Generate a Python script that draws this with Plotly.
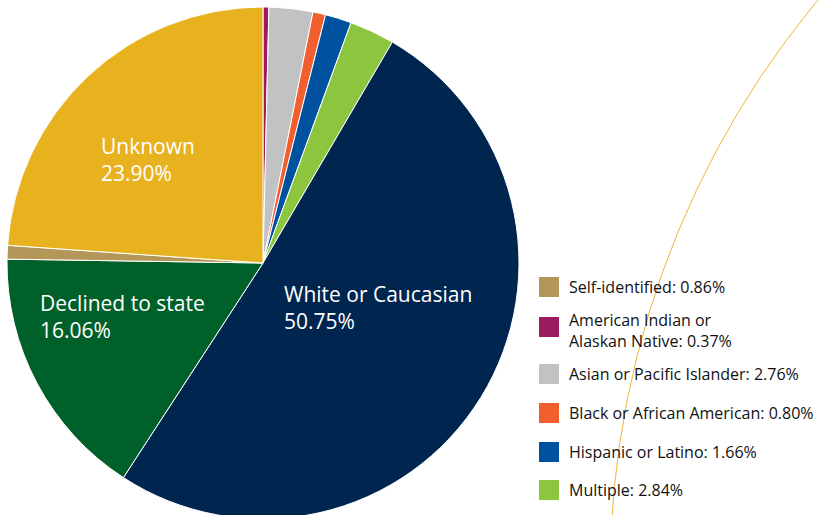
import plotly.graph_objects as go

W, H = 818, 523  # slightly taller than the window; the pie's bottom edge is cropped in the original

labels = ["American Indian or Alaskan Native", "Asian or Pacific Islander",
          "Black or African American", "Hispanic or Latino", "Multiple",
          "White or Caucasian", "Declined to state", "Self-identified", "Unknown"]
values = [0.37, 2.76, 0.80, 1.66, 2.84, 50.75, 16.06, 0.86, 23.90]
colors = ["#9b1b5f", "#c1c2c4", "#f15f2f", "#0052a0", "#8cc63f",
          "#00254f", "#00602a", "#b39759", "#e8b11e"]

legend_labels = ["Self-identified", "American Indian or<br>Alaskan Native",
                 "Asian or Pacific Islander", "Black or African American",
                 "Hispanic or Latino", "Multiple"]
legend_keys = ["Self-identified", "American Indian or Alaskan Native",
               "Asian or Pacific Islander", "Black or African American",
               "Hispanic or Latino", "Multiple"]
legend_rows_px = [287, 327, 374, 413, 452, 490]
legend_text_px = [287, 330, 374, 413, 452, 490]

inside_keys = ["Unknown", "Declined to state", "White or Caucasian"]
inside_pos_px = [(99, 160), (38, 316), (282, 307)]

FONT = "Open Sans"

def px(x):
    return x / W

def py(y):
    return 1 - y / H

fig = go.Figure(go.Pie(
    labels=labels, values=values, sort=False, direction="clockwise", rotation=0,
    marker=dict(colors=colors, line=dict(color="white", width=1)),
    textinfo="none", hoverinfo="label+percent", showlegend=False,
    domain=dict(x=[px(7), px(519)], y=[py(519), py(7)]),
))

shapes = []
annotations = []

# decorative arc
cx, cy, r = 1509, 575, 899
shapes.append(dict(type="circle", xref="paper", yref="paper",
                   x0=px(cx - r), x1=px(cx + r), y0=py(cy + r), y1=py(cy - r),
                   line=dict(color="#f2b33d", width=1), layer="below"))

for key, (x, y) in zip(inside_keys, inside_pos_px):
    v = values[labels.index(key)]
    annotations.append(dict(xref="paper", yref="paper", x=px(x), y=py(y),
                            xanchor="left", yanchor="middle", align="left", showarrow=False,
                            text=f"{key}<br>{v:.2f}%",
                            font=dict(family=FONT, size=21, color="white")))

for lab, key, y, ty in zip(legend_labels, legend_keys, legend_rows_px, legend_text_px):
    i = labels.index(key)
    shapes.append(dict(type="rect", xref="paper", yref="paper",
                       x0=px(539), x1=px(559), y0=py(y + 10), y1=py(y - 10),
                       fillcolor=colors[i], line=dict(width=0)))
    annotations.append(dict(xref="paper", yref="paper", x=px(567), y=py(ty),
                            xanchor="left", yanchor="middle", align="left", showarrow=False,
                            text=f"{lab}: {values[i]:.2f}%",
                            font=dict(family=FONT, size=16, color="#111111")))

fig.update_layout(width=W, height=H, margin=dict(l=0, r=0, t=0, b=0),
                  paper_bgcolor="white", plot_bgcolor="white",
                  shapes=shapes, annotations=annotations)

fig.write_html("out.html", config={"displayModeBar": False},
               post_script="document.body.style.margin='0';"
                           "document.body.style.overflow='hidden';"
                           "document.documentElement.style.overflow='hidden';")
